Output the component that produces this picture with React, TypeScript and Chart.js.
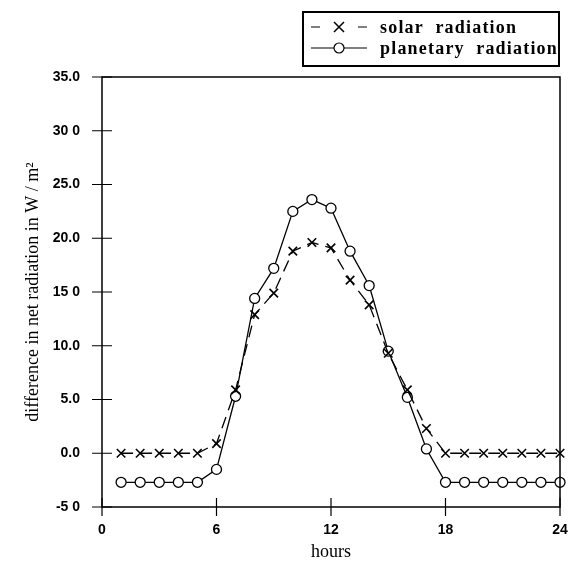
import React, { useEffect, useRef } from "react";
import { Chart, registerables } from "chart.js";

Chart.register(...registerables);

const hours = [1, 2, 3, 4, 5, 6, 7, 8, 9, 10, 11, 12, 13, 14, 15, 16, 17, 18, 19, 20, 21, 22, 23, 24];
const solarRadiation = [0, 0, 0, 0, 0, 0.9, 5.9, 12.9, 14.9, 18.8, 19.6, 19.1, 16.1, 13.8, 9.3, 5.9, 2.3, 0, 0, 0, 0, 0, 0, 0];
const planetaryRadiation = [-2.7, -2.7, -2.7, -2.7, -2.7, -1.5, 5.3, 14.4, 17.2, 22.5, 23.6, 22.8, 18.8, 15.6, 9.5, 5.2, 0.4, -2.7, -2.7, -2.7, -2.7, -2.7, -2.7, -2.7];
const yTickValues = [-5, 0, 5, 10, 15, 20, 25, 30, 35];
const yTickLabels = ["-5 0", "0.0", "5.0", "10.0", "15 0", "20.0", "25.0", "30 0", "35.0"];
const xTickValues = [0, 6, 12, 18, 24];
const legendLabels = ["solar  radiation", "planetary  radiation"];

const serif = "'Liberation Serif', 'Times New Roman', serif";
const sans = "'Liberation Sans', Arial, sans-serif";

const framePlugin = {
  id: "frame",
  afterDraw(chart: any) {
    const { ctx, chartArea } = chart;
    const { left, right, top, bottom } = chartArea;
    const xs = chart.scales.x;
    const ys = chart.scales.y;
    ctx.save();
    ctx.strokeStyle = "#000";
    ctx.lineWidth = 1.5;
    ctx.setLineDash([]);
    ctx.beginPath();
    ctx.moveTo(left, top);
    ctx.lineTo(right, top);
    ctx.lineTo(right, bottom);
    ctx.lineTo(left, bottom);
    ctx.closePath();
    ctx.stroke();
    ctx.lineWidth = 1.2;
    ctx.beginPath();
    yTickValues.forEach((v) => {
      const y = ys.getPixelForValue(v);
      ctx.moveTo(left - 10, y);
      ctx.lineTo(left + 10, y);
    });
    xTickValues.forEach((v) => {
      const x = xs.getPixelForValue(v);
      ctx.moveTo(x, bottom - 9);
      ctx.lineTo(x, bottom + 9);
    });
    ctx.stroke();

    // legend
    const bx = 303, by = 12, bw = 256, bh = 54;
    ctx.fillStyle = "#fff";
    ctx.fillRect(bx, by, bw, bh);
    ctx.lineWidth = 2;
    ctx.strokeRect(bx, by, bw, bh);
    const rows = [27, 48];
    ctx.lineWidth = 1.2;
    ctx.beginPath();
    ctx.moveTo(311, rows[0]); ctx.lineTo(320, rows[0]);
    ctx.moveTo(358, rows[0]); ctx.lineTo(367, rows[0]);
    ctx.stroke();
    ctx.beginPath();
    ctx.lineWidth = 1.5;
    ctx.moveTo(334, rows[0] - 5); ctx.lineTo(344, rows[0] + 5);
    ctx.moveTo(344, rows[0] - 5); ctx.lineTo(334, rows[0] + 5);
    ctx.stroke();
    ctx.lineWidth = 1.2;
    ctx.beginPath();
    ctx.moveTo(311, rows[1]); ctx.lineTo(367, rows[1]);
    ctx.stroke();
    ctx.beginPath();
    ctx.arc(339, rows[1], 5, 0, Math.PI * 2);
    ctx.fillStyle = "#fff";
    ctx.fill();
    ctx.stroke();
    ctx.fillStyle = "#000";
    ctx.font = "bold 18px " + serif;
    ctx.textBaseline = "middle";
    ctx.textAlign = "left";
    (ctx as any).letterSpacing = "1.2px";
    ctx.fillText(legendLabels[0], 380, rows[0] + 1);
    ctx.fillText(legendLabels[1], 380, rows[1] + 1);
    ctx.restore();
  },
};

export default function App() {
  const ref = useRef<HTMLCanvasElement>(null);
  useEffect(() => {
    document.body.style.margin = "0";
    const chart = new Chart(ref.current!, {
      type: "line",
      data: {
        datasets: [
          {
            label: legendLabels[0],
            data: hours.map((h, i) => ({ x: h, y: solarRadiation[i] })),
            borderColor: "#000",
            borderWidth: 1.3,
            borderDash: [12, 7],
            pointStyle: "crossRot",
            pointRadius: 6,
            pointBorderWidth: 1.6,
            pointBorderColor: "#000",
            tension: 0,
            clip: false as any,
          },
          {
            label: legendLabels[1],
            data: hours.map((h, i) => ({ x: h, y: planetaryRadiation[i] })),
            borderColor: "#000",
            borderWidth: 1.3,
            pointStyle: "circle",
            pointRadius: 5,
            pointBorderWidth: 1.3,
            pointBorderColor: "#000",
            pointBackgroundColor: "#fff",
            tension: 0,
            clip: false as any,
          },
        ],
      },
      options: {
        animation: false,
        responsive: false,
        layout: { padding: { top: 77, right: 10, left: 0, bottom: 0 } },
        plugins: { legend: { display: false }, tooltip: { enabled: false } },
        scales: {
          x: {
            type: "linear",
            min: 0,
            max: 24,
            afterFit: (s: any) => { s.height = 60; s.paddingLeft = 0; s.paddingRight = 0; },
            afterBuildTicks: (s: any) => { s.ticks = xTickValues.map((v) => ({ value: v })); },
            grid: { display: false },
            border: { display: false },
            ticks: { color: "#000", padding: 7, font: { family: sans, size: 14, weight: "bold" }, maxRotation: 0 },
            title: { display: true, text: "hours", color: "#000", font: { family: serif, size: 18 }, padding: { top: 4, bottom: 4 } },
          },
          y: {
            type: "linear",
            min: -5,
            max: 35,
            afterFit: (s: any) => { s.width = 102; s.paddingTop = 0; s.paddingBottom = 0; },
            afterBuildTicks: (s: any) => { s.ticks = yTickValues.map((v) => ({ value: v })); },
            grid: { display: false },
            border: { display: false },
            ticks: {
              color: "#000",
              padding: 14,
              font: { family: sans, size: 14, weight: "bold" },
              callback: (v: any) => { const i = yTickValues.indexOf(Number(v)); return i >= 0 ? yTickLabels[i] : ""; },
            },
            title: { display: true, text: "difference in net radiation in W / m²", color: "#000", font: { family: serif, size: 18 }, padding: { top: 22, bottom: 0 } },
          },
        },
      },
      plugins: [framePlugin],
    });
    return () => chart.destroy();
  }, []);
  return <canvas ref={ref} width={570} height={567} style={{ display: "block", width: 570, height: 567 }} />;
}
